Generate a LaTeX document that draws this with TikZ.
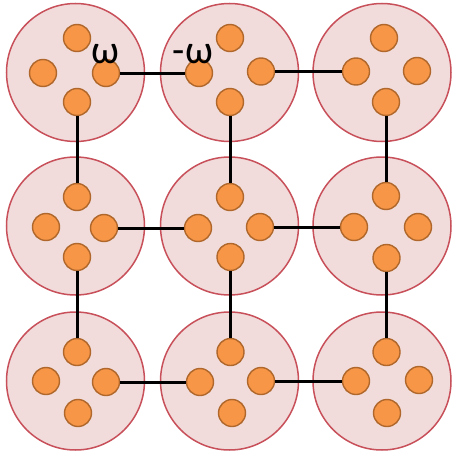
\documentclass[tikz,border=0pt]{standalone}
\usepackage{fontspec}
\setmainfont{Carlito}
\definecolor{cellfill}{HTML}{F2DCDB}
\definecolor{celledge}{HTML}{C8505A}
\definecolor{dotfill}{HTML}{F79646}
\definecolor{dotedge}{HTML}{B0672C}
\tikzset{
  cell/.style={circle, draw=celledge, fill=cellfill, line width=1.5pt, minimum size=138pt, inner sep=0pt},
  dot/.style={circle, draw=dotedge, fill=dotfill, line width=1.4pt, minimum size=27pt, inner sep=0pt},
  bond/.style={line width=3pt, black},
  omega/.style={inner sep=0pt, font=\fontsize{40}{40}\selectfont}
}
\begin{document}
\begin{tikzpicture}[x=1pt,y=-1pt]
\useasboundingbox (0,0) rectangle (451,455);
% large cells
\node[cell] (A) at (75.5,72.5) {};
\node[cell] (B) at (229.5,72.5) {};
\node[cell] (C) at (382,72.5) {};
\node[cell] (D) at (75.5,226) {};
\node[cell] (E) at (229.5,226) {};
\node[cell] (F) at (382,226) {};
\node[cell] (G) at (75.5,381) {};
\node[cell] (H) at (229.5,381) {};
\node[cell] (I) at (382,381) {};
% four sites per cell: t, l, r, b
\node[dot] (At) at (77,38) {};     \node[dot] (Al) at (43,73) {};
\node[dot] (Ar) at (106,73) {};    \node[dot] (Ab) at (77,102) {};
\node[dot] (Bt) at (230,38) {};    \node[dot] (Bl) at (199,73) {};
\node[dot] (Br) at (261,71.5) {};  \node[dot] (Bb) at (230,102) {};
\node[dot] (Ct) at (384,38) {};    \node[dot] (Cl) at (356,71.5) {};
\node[dot] (Cr) at (417,71) {};    \node[dot] (Cb) at (386,102) {};
\node[dot] (Dt) at (77,197) {};    \node[dot] (Dl) at (46,227) {};
\node[dot] (Dr) at (104,228) {};   \node[dot] (Db) at (77,257) {};
\node[dot] (Et) at (230,197) {};   \node[dot] (El) at (198,228) {};
\node[dot] (Er) at (260,227) {};   \node[dot] (Eb) at (230.5,257) {};
\node[dot] (Ft) at (386,196) {};   \node[dot] (Fl) at (354,227) {};
\node[dot] (Fr) at (418,227) {};   \node[dot] (Fb) at (386.5,258) {};
\node[dot] (Gt) at (77,352) {};    \node[dot] (Gl) at (46,381) {};
\node[dot] (Gr) at (106,382) {};   \node[dot] (Gb) at (78,413) {};
\node[dot] (Ht) at (230.5,352) {}; \node[dot] (Hl) at (200,382) {};
\node[dot] (Hr) at (261,381) {};   \node[dot] (Hb) at (232,413) {};
\node[dot] (It) at (386.5,352) {}; \node[dot] (Il) at (356,381) {};
\node[dot] (Ir) at (419,380) {};   \node[dot] (Ib) at (387,413) {};
% bonds between neighbouring cells
\draw[bond] (Ar) -- (Bl);
\draw[bond] (Br) -- (Cl);
\draw[bond] (Dr) -- (El);
\draw[bond] (Er) -- (Fl);
\draw[bond] (Gr) -- (Hl);
\draw[bond] (Hr) -- (Il);
\draw[bond] (Ab) -- (Dt);
\draw[bond] (Bb) -- (Et);
\draw[bond] (Cb) -- (Ft);
\draw[bond] (Db) -- (Gt);
\draw[bond] (Eb) -- (Ht);
\draw[bond] (Fb) -- (It);
% phase labels
\node[omega] (wplus) at (105,54) {ω};
\node[omega] (wminus) at (193,54) {-ω};
\end{tikzpicture}
\end{document}
